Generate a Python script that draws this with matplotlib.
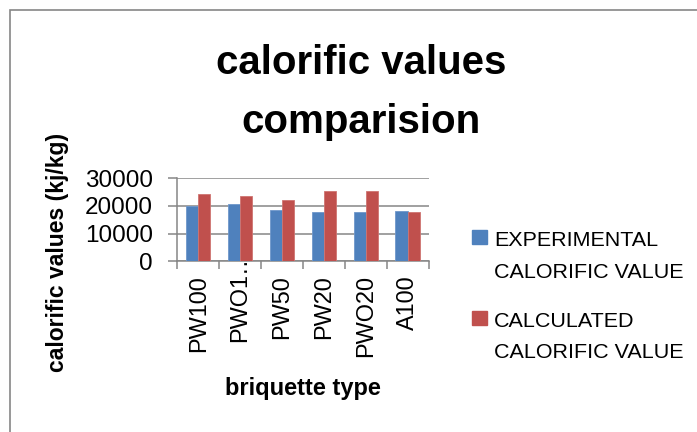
import matplotlib
matplotlib.use("Agg")
import matplotlib.pyplot as plt
from matplotlib import font_manager
from matplotlib.patches import Rectangle
from matplotlib.transforms import ScaledTranslation
import numpy as np

categories = ["PW100", "PWO1…", "PW50", "PW20", "PWO20", "A100"]
experimental = [20100, 20850, 18700, 17950, 17900, 18200]
calculated = [24450, 23600, 22150, 25400, 25300, 17700]
series_names = [["EXPERIMENTAL", "CALORIFIC VALUE"], ["CALCULATED", "CALORIFIC VALUE"]]
series_colors = ["#4F81BD", "#C0504D"]
edge_colors = ["#6F97CB", "#CF7471"]
yticks = [0, 10000, 20000, 30000]

plt.rcParams["font.family"] = ["Liberation Sans", "DejaVu Sans"]

# a narrow face if there is one, else plain Liberation Sans sized to the same widths
narrow = None
for f in font_manager.fontManager.ttflist:
    if f.name == "Liberation Sans Narrow" and f.weight in (400, "normal", "regular") and f.style == "normal":
        narrow = f.name
if narrow is None:
    narrow = "Liberation Sans"

W, H = 697, 432
fig = plt.figure(figsize=(W / 100, H / 100), dpi=100)
renderer = fig.canvas.get_renderer()


def fit_size(text, family, target_px, base=20):
    t = fig.text(0, 0, text, family=family, fontsize=base)
    wpx = t.get_window_extent(renderer).width
    t.remove()
    return base * target_px / wpx


# outer chart frame
fig.add_artist(Rectangle((10 / W, -0.1), 1.2, (H - 10) / H + 0.1, transform=fig.transFigure,
                         fill=False, edgecolor="#868686", linewidth=1.2))

ax = fig.add_axes([177.3 / W, (H - 261.3) / H, 251.2 / W, 83 / H])
x = np.arange(len(categories))
w = 0.29
ax.bar(x - w / 2, experimental, w, color=series_colors[0], edgecolor=edge_colors[0],
       linewidth=0.6, zorder=3)
ax.bar(x + w / 2, calculated, w, color=series_colors[1], edgecolor=edge_colors[1],
       linewidth=0.6, zorder=3)

ax.set_xlim(-0.5, len(categories) - 0.5)
ax.set_ylim(0, 30000)
ax.set_yticks(yticks)
ax.set_yticklabels([str(v) for v in yticks], fontsize=17.5)
ax.yaxis.grid(True, color="#868686", linewidth=1.1, zorder=0)
ax.set_xticks(np.arange(-0.5, len(categories)), labels=[])
ax.set_xticks(x, labels=categories, minor=True)
xt_size = fit_size("PW100", narrow, 77)
for lab in ax.get_xticklabels(minor=True):
    lab.set_family(narrow)
    lab.set_fontsize(xt_size)
    lab.set_rotation(90)
ax.tick_params(axis="x", which="major", length=6, width=1.1, color="#868686", direction="out")
ax.tick_params(axis="x", which="minor", length=0, pad=10)
ax.tick_params(axis="y", length=6.5, width=1.1, color="#868686", pad=11)
for s in ["top", "right"]:
    ax.spines[s].set_visible(False)
for s in ["left", "bottom"]:
    ax.spines[s].set_color("#868686")
    ax.spines[s].set_linewidth(1.1)

# the truncated label sits higher, its last letter level with the others minus ~10px
fig.canvas.draw()
labs = ax.get_xticklabels(minor=True)
b0 = labs[0].get_window_extent(renderer).y0
b1 = labs[1].get_window_extent(renderer).y0
shift = (b0 - b1) + 10
labs[1].set_transform(labs[1].get_transform() + ScaledTranslation(0, shift / 100, fig.dpi_scale_trans))

fig.text(361 / W, 1 - 74 / H, "calorific values", ha="center", va="baseline",
         fontsize=29, fontweight="bold")
fig.text(361 / W, 1 - 133 / H, "comparision", ha="center", va="baseline",
         fontsize=29, fontweight="bold")
fig.text(58 / W, 1 - 252 / H, "calorific values (kj/kg)", rotation=90, ha="center",
         va="center", fontsize=16.5, fontweight="bold")
fig.text(303 / W, 1 - 388 / H, "briquette type", ha="center", va="center",
         fontsize=17, fontweight="bold")

# legend
lg_size = fit_size("CALORIFIC VALUE", narrow, 189)
baselines = [[246, 278], [327, 358]]
for name, col, bl in zip(series_names, series_colors, baselines):
    fig.add_artist(Rectangle((472 / W, 1 - (bl[0] - 2) / H), 15 / W, 14 / H,
                             transform=fig.transFigure, color=col))
    for line, b in zip(name, bl):
        fig.text(494 / W, 1 - b / H, line, ha="left", va="baseline", family=narrow,
                 fontsize=lg_size)

fig.savefig("out.png", dpi=100)
